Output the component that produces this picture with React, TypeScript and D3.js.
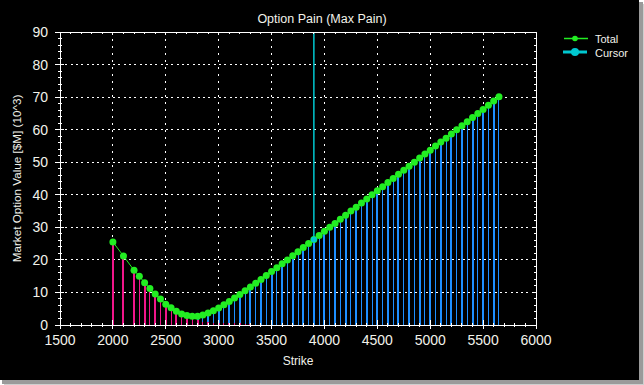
import * as d3 from "d3";

// Strike prices shown on the chart
const strikes = [
  2000, 2100, 2200, 2250, 2300, 2350, 2400, 2450, 2500, 2550, 2600, 2650,
  2700, 2750, 2800, 2850, 2900, 2950, 3000, 3050, 3100, 3150, 3200, 3250,
  3300, 3350, 3400, 3450, 3500, 3550, 3600, 3650, 3700, 3750, 3800, 3850,
  3900, 3950, 4000, 4050, 4100, 4150, 4200, 4250, 4300, 4350, 4400, 4450,
  4500, 4550, 4600, 4650, 4700, 4750, 4800, 4850, 4900, 4950, 5000, 5050,
  5100, 5150, 5200, 5250, 5300, 5350, 5400, 5450, 5500, 5550, 5600, 5650,
];

// Total market option value ($M, 10^3) at each strike
const totalValues = [
  25.5, 21.2, 16.8, 15.0, 13.0, 11.2, 9.5, 8.0, 6.4, 5.3, 4.2, 3.4,
  2.9, 2.7, 2.7, 3.1, 3.7, 4.4, 5.2, 6.2, 7.2, 8.3, 9.4, 10.5,
  11.7, 12.8, 14.0, 15.2, 16.4, 17.6, 18.8, 20.0, 21.3, 22.5, 23.8, 25.0,
  26.3, 27.5, 28.8, 30.0, 31.2, 32.5, 33.7, 35.0, 36.2, 37.5, 38.7, 40.0,
  41.2, 42.5, 43.8, 45.0, 46.3, 47.5, 48.8, 50.0, 51.3, 52.5, 53.7, 55.0,
  56.2, 57.4, 58.7, 60.0, 61.2, 62.4, 63.7, 65.0, 66.2, 67.5, 68.8, 70.1,
];

// Put part of the value (pink), the rest is calls (blue)
const putValues = [
  25.5, 21.2, 16.8, 15.0, 13.0, 11.2, 9.5, 8.0, 6.4, 5.3, 4.2, 3.3,
  2.6, 2.0, 1.5, 1.0, 0.8, 0.7, 0.6, 0.6, 0.5, 0.5, 0.5, 0.4,
  0.4, 0, 0, 0, 0, 0, 0, 0, 0, 0, 0, 0,
  0, 0, 0, 0, 0, 0, 0, 0, 0, 0, 0, 0,
  0, 0, 0, 0, 0, 0, 0, 0, 0, 0, 0, 0,
  0, 0, 0, 0, 0, 0, 0, 0, 0, 0, 0, 0,
];

const cursorStrike = 3900;
const xTicks = [1500, 2000, 2500, 3000, 3500, 4000, 4500, 5000, 5500, 6000];
const yTicks = [0, 10, 20, 30, 40, 50, 60, 70, 80, 90];

const W = 644;
const H = 385;
const plot = { left: 60, right: 536, top: 32, bottom: 325 };

const TEXT = "#f2f2ea";
const PINK = "#f0168a";
const BLUE = "#1e8fff";
const GREEN = "#22ee22";
const CYAN = "#00c8d0";

export default function App() {
  const x = d3.scaleLinear().domain([1500, 6000]).range([plot.left, plot.right]);
  const y = d3.scaleLinear().domain([0, 90]).range([plot.bottom, plot.top]);

  const xMinor = d3.range(1500, 6001, 100);
  const yMinor = d3.range(0, 91, 2);

  const rows = strikes.map((s, i) => ({
    strike: s,
    total: totalValues[i],
    put: putValues[i],
    call: totalValues[i] - putValues[i],
  }));

  const line = d3
    .line<(typeof rows)[number]>()
    .x(d => x(d.strike))
    .y(d => y(d.total));

  const cursorIdx = strikes.indexOf(cursorStrike);
  const font = "'Liberation Sans', Arial, sans-serif";

  return (
    <div style={{ position: "fixed", left: 0, top: 0, width: W, height: H }}>
      <svg width={W} height={H} style={{ display: "block" }} fontFamily={font}>
        {/* window + drop shadow */}
        <rect x={0} y={0} width={W} height={H} fill="#ffffff" />
        <rect x={4} y={4} width={W - 4} height={H - 4} fill="#cfcfcf" />
        <rect x={2} y={2} width={W - 3} height={H - 3} fill="#9a9a9a" />
        <rect x={0} y={0} width={639} height={380} fill="#000" />

        <text x={322} y={23} textAnchor="middle" fill={TEXT} fontSize={12.5}>
          Option Pain (Max Pain)
        </text>

        {/* dotted grid */}
        <g stroke="#fff" strokeWidth={1.2} shapeRendering="crispEdges">
          {yTicks.slice(1, -1).map(t => (
            <line key={"gy" + t} x1={plot.left} x2={plot.right} y1={y(t)} y2={y(t)} strokeDasharray="2,3.3" />
          ))}
          {xTicks.slice(1, -1).map(t => (
            <line key={"gx" + t} x1={x(t)} x2={x(t)} y1={plot.top} y2={plot.bottom} strokeDasharray="2,5" />
          ))}
        </g>

        {/* cursor */}
        <line
          x1={x(cursorStrike)}
          x2={x(cursorStrike)}
          y1={plot.top}
          y2={plot.bottom}
          stroke={CYAN}
          strokeWidth={1.5}
        />

        {/* stacked bars: puts below, calls above */}
        <g shapeRendering="crispEdges">
          {rows.map(d => {
            const w = d.strike % 100 === 0 ? 2 : 1;
            const bx = Math.round(x(d.strike) - w / 2);
            return (
              <g key={"b" + d.strike}>
                {d.put > 0 && (
                  <rect x={bx} width={w} y={y(d.put)} height={y(0) - y(d.put)} fill={PINK} />
                )}
                {d.call > 0 && (
                  <rect x={bx} width={w} y={y(d.total)} height={y(d.put) - y(d.total)} fill={BLUE} />
                )}
              </g>
            );
          })}
        </g>

        {/* total line + markers */}
        <path d={line(rows) || ""} fill="none" stroke={GREEN} strokeWidth={1} />
        {rows.map(d => (
          <circle key={"m" + d.strike} cx={x(d.strike)} cy={y(d.total)} r={3.5} fill={GREEN} />
        ))}
        {cursorIdx >= 0 && (
          <circle cx={x(cursorStrike)} cy={y(totalValues[cursorIdx])} r={3} fill={CYAN} />
        )}

        {/* frame */}
        <rect
          x={plot.left}
          y={plot.top}
          width={plot.right - plot.left}
          height={plot.bottom - plot.top}
          fill="none"
          stroke="#fff"
          strokeWidth={1}
          shapeRendering="crispEdges"
        />

        {/* ticks */}
        <g stroke="#fff" strokeWidth={1} shapeRendering="crispEdges">
          {xMinor.map(t => {
            const major = t % 500 === 0;
            const px = x(t);
            return (
              <g key={"tx" + t}>
                <line x1={px} x2={px} y1={plot.bottom - (major ? 5 : 2)} y2={plot.bottom + (major ? 4 : 2)} />
                <line x1={px} x2={px} y1={plot.top} y2={plot.top + (major ? 3 : 2)} />
              </g>
            );
          })}
          {yMinor.map(t => {
            const major = t % 10 === 0;
            const py = y(t);
            return (
              <g key={"ty" + t}>
                <line x1={plot.left - (major ? 5 : 2)} x2={plot.left + (major ? 4 : 2)} y1={py} y2={py} />
                <line x1={plot.right - (major ? 3 : 2)} x2={plot.right} y1={py} y2={py} />
              </g>
            );
          })}
        </g>

        {/* tick labels */}
        <g fill={TEXT} fontSize={14}>
          {yTicks.map(t => (
            <text key={"ly" + t} x={48} y={y(t)} dy="0.36em" textAnchor="end">
              {t}
            </text>
          ))}
          {xTicks.map(t => (
            <text key={"lx" + t} x={x(t)} y={345} textAnchor="middle">
              {t}
            </text>
          ))}
        </g>

        <text x={298} y={365} textAnchor="middle" fill={TEXT} fontSize={12}>
          Strike
        </text>
        <text
          transform={`translate(21,${(plot.top + plot.bottom) / 2}) rotate(-90)`}
          textAnchor="middle"
          fill={TEXT}
          fontSize={11.7}
        >
          Market Option Value [$M] (10^3)
        </text>

        {/* legend */}
        <line x1={564} x2={588} y1={38.5} y2={38.5} stroke={GREEN} strokeWidth={1.5} />
        <circle cx={575} cy={38.5} r={2.8} fill={GREEN} />
        <text x={595} y={43} fill={TEXT} fontSize={11}>
          Total
        </text>
        <line x1={563} x2={587} y1={52} y2={52} stroke={CYAN} strokeWidth={3} />
        <circle cx={575} cy={52} r={4} fill={CYAN} />
        <text x={595} y={56.5} fill={TEXT} fontSize={11}>
          Cursor
        </text>
      </svg>
    </div>
  );
}
